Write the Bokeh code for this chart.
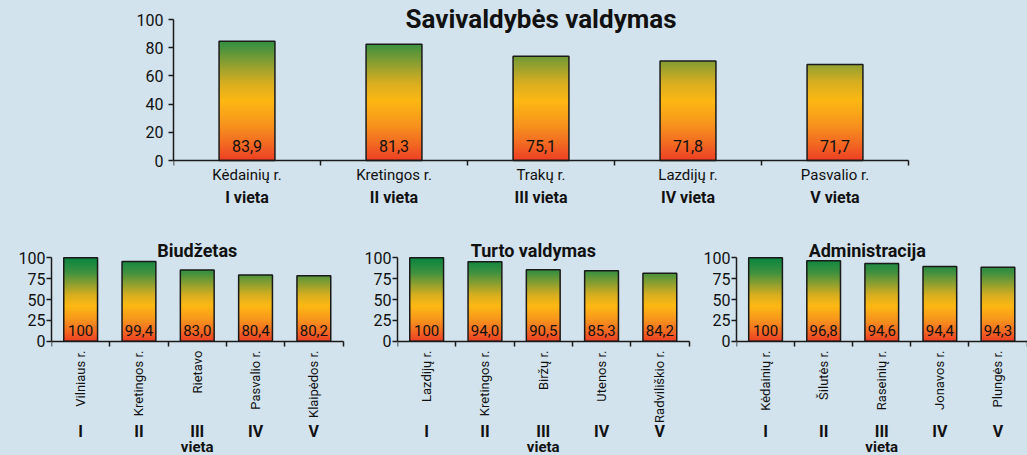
import numpy as np
from bokeh.plotting import figure
from bokeh.models import Range1d, FixedTicker, LabelSet, Label, ColumnDataSource
from bokeh.layouts import column, row
from bokeh.embed import file_html
from bokeh.resources import INLINE
from bokeh.core.properties import value

# ---------------- data ----------------
main_title = "Savivaldybės valdymas"
main_places = ["Kėdainių r.", "Kretingos r.", "Trakų r.", "Lazdijų r.", "Pasvalio r."]
main_ranks = ["I vieta", "II vieta", "III vieta", "IV vieta", "V vieta"]
main_labels = ["83,9", "81,3", "75,1", "71,8", "71,7"]
main_heights = [84.5, 82.5, 74.0, 70.5, 68.0]
main_ticks = [0, 20, 40, 60, 80, 100]

budget_title = "Biudžetas"
budget_places = ["Vilniaus r.", "Kretingos r.", "Rietavo", "Pasvalio r.", "Klaipėdos r."]
budget_labels = ["100", "99,4", "83,0", "80,4", "80,2"]
budget_heights = [100, 95.5, 85.5, 79.5, 78.5]

property_title = "Turto valdymas"
property_places = ["Lazdijų r.", "Kretingos r.", "Biržų r.", "Utenos r.", "Radviliškio r."]
property_labels = ["100", "94,0", "90,5", "85,3", "84,2"]
property_heights = [100, 95.2, 85.6, 84.4, 81.5]

admin_title = "Administracija"
admin_places = ["Kėdainių r.", "Šilutės r.", "Raseinių r.", "Jonavos r.", "Plungės r."]
admin_labels = ["100", "96,8", "94,6", "94,4", "94,3"]
admin_heights = [100, 96.4, 93.2, 89.6, 88.8]

small_ranks = ["I", "II", "III", "IV", "V"]
small_ticks = [0, 25, 50, 75, 100]
place_word = "vieta"

# ---------------- style ----------------
BG = "#d2e3ed"
AX = "#1a1a1a"
TXT = "#111111"
FONT = "Roboto"

STOPS = [(0, (238, 63, 36)), (12, (242, 106, 34)), (25, (247, 147, 29)),
         (42, (253, 184, 19)), (55, (215, 174, 32)), (68, (143, 160, 48)),
         (82, (62, 145, 64)), (100, (7, 132, 63))]
_sy = np.array([s[0] for s in STOPS], dtype=float)
_sc = np.array([s[1] for s in STOPS], dtype=float)


def gradient_image(h, rows=240):
    ys = (np.arange(rows) + 0.5) / rows * h
    img = np.zeros((rows, 2, 4), dtype=np.uint8)
    for c in range(3):
        ch = np.interp(ys, _sy, _sc[:, c]).round().astype(np.uint8)
        img[:, :, c] = ch[:, None]
    img[:, :, 3] = 255
    return img.view(np.uint32).reshape(rows, 2)


def draw_bars(p, heights, width):
    xs = [i + 0.5 for i in range(len(heights))]
    for x, h in zip(xs, heights):
        p.image_rgba(image=[gradient_image(h)], x=x - width / 2, y=0, dw=width, dh=h)
    p.vbar(x=xs, top=heights, width=width, fill_color=None,
           line_color=AX, line_width=1.5)
    return xs


def style_axes(p, yticks, ysize, standoff, n):
    p.grid.visible = False
    ya = p.yaxis[0]
    ya.ticker = FixedTicker(ticks=yticks)
    ya.bounds = (0, 100)
    ya.major_tick_out = 5
    ya.major_tick_in = 0
    ya.minor_tick_out = 0
    ya.minor_tick_in = 0
    ya.axis_line_width = 1.5
    ya.axis_line_color = AX
    ya.major_tick_line_width = 1.5
    ya.major_tick_line_color = AX
    ya.major_label_text_font = FONT
    ya.major_label_text_font_size = ysize
    ya.major_label_text_color = TXT
    ya.major_label_standoff = standoff
    xa = p.xaxis[0]
    xa.fixed_location = 0
    xa.bounds = (0, n)
    xa.ticker = FixedTicker(ticks=list(range(n + 1)))
    xa.major_label_text_font_size = "0px"
    xa.major_tick_out = 5
    xa.major_tick_in = 0
    xa.minor_tick_out = 0
    xa.minor_tick_in = 0
    xa.axis_line_width = 1.5
    xa.axis_line_color = AX
    xa.major_tick_line_width = 1.5
    xa.major_tick_line_color = AX


def labels(p, xs, ys, texts, size, bold=False, angle=0.0, align="center", baseline="middle"):
    src = ColumnDataSource(dict(x=xs, y=ys, t=texts))
    p.add_layout(LabelSet(x="x", y="y", text="t", source=src, angle=angle,
                          text_font=value(FONT), text_font_size=value(size),
                          text_font_style=value("bold" if bold else "normal"),
                          text_color=value(TXT), text_align=value(align),
                          text_baseline=value(baseline)))


def make_fig(width, height, left, px_x, px_y, zero_px):
    """Figure whose frame fills everything right of `left`; px_x / px_y are pixels per data unit,
    zero_px the pixel row of value 0 measured from the figure top."""
    x_end = (width - left) / px_x
    y_top = zero_px / px_y
    y_bot = -(height - zero_px) / px_y
    return figure(width=width, height=height, x_range=Range1d(0, x_end),
                  y_range=Range1d(y_bot, y_top), output_backend="svg", toolbar_location=None,
                  min_border=0, min_border_left=left,
                  background_fill_color=BG, border_fill_color=BG, outline_line_color=None)


# ---------------- top chart ----------------
TOP_H = 215
top = make_fig(1027, TOP_H, 173, 147.0, 1.41, 160)
n = len(main_heights)
style_axes(top, main_ticks, "16px", 5, n)
xs = draw_bars(top, main_heights, 0.38)
labels(top, xs, [5.9] * n, main_labels, "16px", baseline="alphabetic")
labels(top, xs, [-10.6] * n, main_places, "15px")
labels(top, xs, [-26.2] * n, main_ranks, "16px", bold=True)
top.add_layout(Label(x=n / 2, y=100.5, text=main_title, text_font=FONT, text_font_size="26px",
                     text_font_style="bold", text_color=TXT, text_align="center",
                     text_baseline="alphabetic"))

# ---------------- small charts ----------------
SMALL_H = 455 - TOP_H
SMALL_PX_Y = 0.834
SMALL_ZERO = 125.7


def small_fig(width, left, title, title_x, places, vals, heights):
    p = make_fig(width, SMALL_H, left, 58.3, SMALL_PX_Y, SMALL_ZERO)
    n = len(heights)
    style_axes(p, small_ticks, "16px", 1, n)
    xs = draw_bars(p, heights, 0.58)
    labels(p, xs, [6.8] * n, vals, "15px", baseline="alphabetic")
    labels(p, xs, [-11.2] * n, places, "13px", angle=np.pi / 2, align="right")
    labels(p, xs, [-108.5] * n, small_ranks, "16px", bold=True)
    labels(p, [xs[2]], [-126.3], [place_word], "15px", bold=True)
    p.add_layout(Label(x=title_x, y=108.8, text=title, text_font=FONT, text_font_size="18px",
                       text_font_style="bold", text_color=TXT, text_align="center",
                       text_baseline="alphabetic"))
    return p


f1 = small_fig(352, 51, budget_title, 2.5, budget_places, budget_labels, budget_heights)
f2 = small_fig(348, 45, property_title, 2.33, property_places, property_labels, property_heights)
f3 = small_fig(327, 35, admin_title, 2.25, admin_places, admin_labels, admin_heights)

p = column(top, row(f1, f2, f3, styles={"background-color": BG}),
           styles={"background-color": BG})
open("out.html", "w").write(file_html(p, INLINE))
